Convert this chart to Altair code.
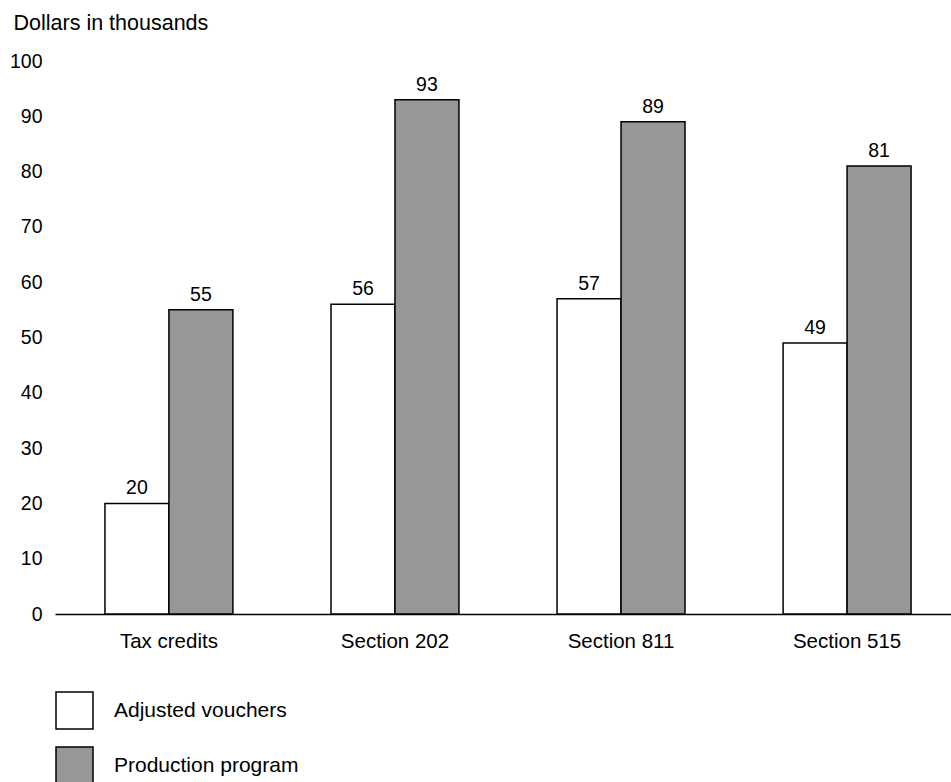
import altair as alt
import pandas as pd

categories = ["Tax credits", "Section 202", "Section 811", "Section 515"]
adjusted_vouchers = [20, 56, 57, 49]
production_program = [55, 93, 89, 81]
series = ["Adjusted vouchers", "Production program"]
y_ticks = list(range(0, 101, 10))

rows = []
for cat, a, p in zip(categories, adjusted_vouchers, production_program):
    rows.append({"program": cat, "series": series[0], "value": a})
    rows.append({"program": cat, "series": series[1], "value": p})
df = pd.DataFrame(rows)

FONT = "Liberation Sans"
NUM_SIZE = 19.5
TEXT_SIZE = 20.5

x = alt.X(
    "program:N",
    sort=categories,
    scale=alt.Scale(paddingInner=0.434, paddingOuter=0.221),
    axis=alt.Axis(
        title=None, labelAngle=0, ticks=False, grid=False, domain=True,
        domainColor="black", domainWidth=1.5, labelFontSize=TEXT_SIZE,
        labelPadding=17, labelColor="black", labelFont=FONT,
    ),
)
y = alt.Y(
    "value:Q",
    scale=alt.Scale(domain=[0, 100], nice=False),
    axis=alt.Axis(
        values=y_ticks, domain=False, domainOpacity=0, ticks=False, grid=False,
        labelFontSize=NUM_SIZE, labelPadding=13, labelColor="black", labelFont=FONT,
        title="Dollars in thousands", titleAngle=0, titleX=-42, titleY=-38,
        titleAlign="left", titleBaseline="middle", titleFontSize=21.5,
        titleFontWeight="normal", titleFont=FONT, titleColor="black",
    ),
)
xoff = alt.XOffset("series:N", sort=series)

bars = alt.Chart(df).mark_bar(stroke="black", strokeWidth=1.5).encode(
    x=x, y=y, xOffset=xoff,
    fill=alt.Fill(
        "series:N",
        sort=series,
        scale=alt.Scale(domain=series, range=["#ffffff", "#979797"]),
        legend=alt.Legend(
            title=None, orient="none", legendX=0, legendY=630,
            symbolType="square", symbolSize=1369, symbolStrokeColor="black",
            symbolStrokeWidth=1.5, labelFontSize=21, labelFont=FONT,
            labelColor="black", labelOffset=20, rowPadding=12, labelLimit=400,
        ),
    ),
)

labels = alt.Chart(df).mark_text(
    baseline="bottom", dy=-5, fontSize=NUM_SIZE, font=FONT, color="black"
).encode(x=x, y=y, xOffset=xoff, text=alt.Text("value:Q"))

chart = (
    alt.layer(bars, labels)
    .properties(
        width=906, height=553,
        autosize=alt.AutoSizeParams(type="pad"),
        padding={"left": 9, "top": 12, "right": -10, "bottom": 5},
        view=alt.ViewBackground(stroke="transparent", strokeWidth=0, strokeOpacity=0),
    )
    .configure_view(stroke="transparent", strokeWidth=0, strokeOpacity=0)
    .configure_axisY(domain=False, domainOpacity=0, grid=False, ticks=False)
    .configure(background="white")
)

chart.save("out.html", embed_options={"renderer": "svg", "actions": False})
